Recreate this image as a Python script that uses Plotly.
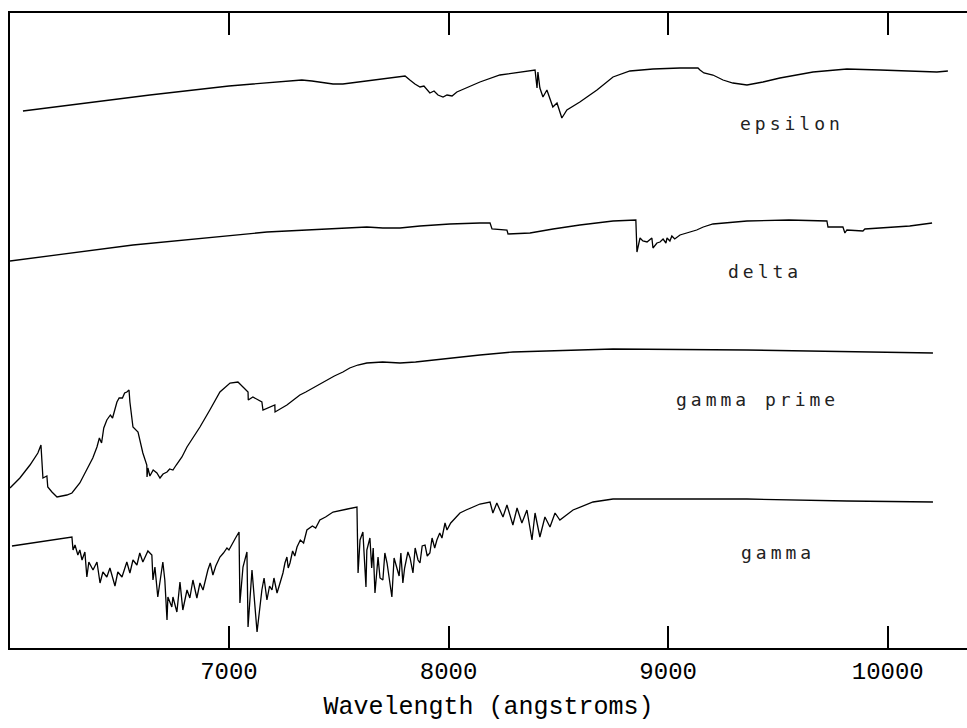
import plotly.graph_objects as go

# Wavelength (angstroms) and relative flux (offset per star) for each spectrum
epsilon_wave = [6062, 6413, 6640, 7000, 7332, 7378, 7474, 7519, 7628, 7802,
                7824, 7847, 7870, 7888, 7915, 7934, 7952, 7975, 7993, 8016, 8038,
                8143, 8234, 8293, 8394, 8403, 8407, 8416, 8430, 8448, 8462, 8475,
                8494, 8516, 8539, 8598, 8676, 8749, 8826, 8931, 9054, 9136, 9145,
                9163, 9204, 9250, 9295, 9359, 9432, 9509, 9660, 9814, 9965, 10101,
                10224, 10274]
epsilon_flux = [5.37, 5.47, 5.53, 5.62, 5.68, 5.67, 5.64, 5.64, 5.67, 5.72,
                5.68, 5.64, 5.61, 5.62, 5.55, 5.57, 5.53, 5.51, 5.53, 5.52, 5.56,
                5.66, 5.73, 5.75, 5.78, 5.60, 5.76, 5.60, 5.51, 5.58, 5.48, 5.41,
                5.45, 5.30, 5.38, 5.46, 5.58, 5.71, 5.77, 5.79, 5.80, 5.80, 5.78,
                5.75, 5.73, 5.68, 5.65, 5.63, 5.66, 5.70, 5.76, 5.79, 5.78, 5.77,
                5.76, 5.77]

delta_wave = [6003, 6563, 7173, 7628, 7701, 7779, 7870, 8006, 8143, 8189,
              8198, 8266, 8271, 8371, 8476, 8598, 8749, 8853, 8858, 8872, 8885,
              8904, 8926, 8931, 8949, 8963, 8977, 8990, 8995, 9008, 9017, 9030,
              9054, 9099, 9130, 9160, 9204, 9359, 9550, 9723, 9728, 9796, 9805,
              9814, 9887, 9896, 9965, 10100, 10202]
delta_flux = [3.87, 4.03, 4.16, 4.21, 4.20, 4.20, 4.22, 4.24, 4.25, 4.25,
              4.19, 4.18, 4.14, 4.15, 4.19, 4.23, 4.27, 4.28, 3.96, 4.10, 4.07,
              4.06, 4.10, 4.00, 4.05, 4.06, 4.09, 4.05, 4.10, 4.07, 4.12, 4.09,
              4.13, 4.16, 4.18, 4.21, 4.24, 4.27, 4.28, 4.27, 4.21, 4.21, 4.15,
              4.18, 4.17, 4.19, 4.20, 4.22, 4.25]

gamma_prime_wave = [6003, 6048, 6094, 6130, 6144, 6148, 6153, 6171, 6175, 6194,
                    6217, 6262, 6285, 6321, 6367, 6380, 6399, 6410, 6420, 6430,
                    6444, 6460, 6470, 6490, 6500, 6515, 6525, 6535, 6545, 6549,
                    6563, 6586, 6608, 6626, 6627, 6631, 6640, 6655, 6672, 6686,
                    6700, 6718, 6730, 6745, 6760, 6786, 6809, 6868, 6913, 6959,
                    7005, 7041, 7064, 7087, 7088, 7109, 7150, 7155, 7209, 7210,
                    7264, 7323, 7350, 7383, 7420, 7446, 7480, 7519, 7550, 7587,
                    7628, 7700, 7779, 7850, 7929, 8000, 8143, 8293, 8749, 9359,
                    9814, 10206]
gamma_prime_flux = [1.60, 1.70, 1.83, 1.95, 2.03, 1.86, 1.70, 1.72, 1.61, 1.56,
                    1.51, 1.53, 1.55, 1.65, 1.85, 1.90, 2.01, 2.10, 2.05, 2.20,
                    2.28, 2.33, 2.30, 2.46, 2.50, 2.50, 2.55, 2.56, 2.58, 2.46,
                    2.21, 2.16, 1.95, 1.83, 1.71, 1.80, 1.72, 1.78, 1.75, 1.70,
                    1.74, 1.76, 1.79, 1.78, 1.83, 1.91, 2.01, 2.21, 2.38, 2.56,
                    2.65, 2.66, 2.61, 2.56, 2.48, 2.51, 2.46, 2.38, 2.43, 2.36,
                    2.43, 2.53, 2.56, 2.60, 2.65, 2.68, 2.72, 2.76, 2.80, 2.83,
                    2.85, 2.86, 2.85, 2.86, 2.88, 2.90, 2.93, 2.96, 2.99, 2.98,
                    2.96, 2.95]

gamma_wave = [6012, 6285, 6290, 6299, 6312, 6321, 6331, 6344, 6353, 6362,
              6381, 6399, 6413, 6426, 6444, 6458, 6481, 6494, 6513, 6535,
              6549, 6563, 6581, 6594, 6608, 6631, 6649, 6654, 6663, 6672,
              6676, 6699, 6708, 6718, 6722, 6740, 6745, 6763, 6777, 6790,
              6809, 6822, 6836, 6854, 6868, 6882, 6895, 6904, 6915, 6927,
              6940, 6959, 6975, 6991, 7000, 7018, 7030, 7046, 7050, 7064,
              7082, 7087, 7105, 7128, 7150, 7160, 7173, 7185, 7196, 7205,
              7219, 7230, 7246, 7255, 7264, 7270, 7278, 7290, 7300, 7310,
              7325, 7340, 7355, 7380, 7395, 7414, 7440, 7474, 7500, 7540,
              7583, 7588, 7597, 7610, 7624, 7628, 7642, 7650, 7657, 7665,
              7679, 7688, 7701, 7710, 7720, 7730, 7742, 7752, 7765, 7775,
              7783, 7792, 7800, 7815, 7825, 7838, 7848, 7861, 7870, 7880,
              7893, 7903, 7915, 7925, 7937, 7947, 7960, 7970, 7984, 7993,
              8010, 8030, 8052, 8080, 8110, 8143, 8189, 8202, 8220, 8248,
              8266, 8293, 8312, 8334, 8357, 8380, 8394, 8416, 8439, 8462,
              8485, 8507, 8567, 8658, 8749, 9359, 9814, 10206]
gamma_flux = [1.02, 1.11, 0.98, 1.03, 0.93, 0.98, 0.88, 0.96, 0.71, 0.86,
              0.78, 0.86, 0.65, 0.76, 0.71, 0.80, 0.62, 0.76, 0.71, 0.86,
              0.75, 0.88, 0.83, 0.95, 0.86, 0.97, 0.93, 0.68, 0.81, 0.58,
              0.51, 0.86, 0.68, 0.28, 0.51, 0.41, 0.51, 0.36, 0.66, 0.38,
              0.58, 0.50, 0.68, 0.50, 0.65, 0.58, 0.70, 0.78, 0.85, 0.73,
              0.82, 0.91, 0.95, 1.00, 0.98, 1.06, 1.10, 1.16, 0.45, 0.81,
              0.96, 0.21, 0.78, 0.16, 0.58, 0.70, 0.48, 0.62, 0.58, 0.70,
              0.55, 0.63, 0.75, 0.85, 0.91, 0.80, 0.85, 0.97, 0.92, 1.01,
              1.08, 1.05, 1.18, 1.22, 1.20, 1.28, 1.31, 1.36, 1.37, 1.39,
              1.41, 0.75, 1.08, 1.16, 0.61, 0.98, 1.10, 0.80, 1.00, 0.55,
              0.91, 0.70, 0.68, 0.95, 0.85, 0.70, 0.51, 0.90, 0.81, 0.72,
              0.95, 0.65, 0.80, 0.96, 0.90, 0.75, 1.00, 0.88, 0.85, 1.02,
              1.03, 0.92, 0.95, 1.10, 1.00, 1.08, 1.15, 1.10, 1.25, 1.18,
              1.25, 1.30, 1.35, 1.38, 1.41, 1.44, 1.46, 1.35, 1.45, 1.31,
              1.43, 1.23, 1.40, 1.25, 1.38, 1.08, 1.35, 1.11, 1.31, 1.21,
              1.35, 1.28, 1.38, 1.46, 1.49, 1.49, 1.47, 1.46]

star_names = ["epsilon", "delta", "gamma prime", "gamma"]
label_wave = [9564, 9441, 9409, 9500]
label_flux = [5.25, 3.77, 2.49, 0.96]

tick_values = [7000, 8000, 9000, 10000]
tick_text = ["7000", "8000", "9000", "10000"]

spectra = [
    (epsilon_wave, epsilon_flux),
    (delta_wave, delta_flux),
    (gamma_prime_wave, gamma_prime_flux),
    (gamma_wave, gamma_flux),
]

fig = go.Figure()
for name, (w, f) in zip(star_names, spectra):
    fig.add_trace(go.Scatter(
        x=w, y=f, mode="lines", name=name,
        line=dict(color="black", width=1.3),
        showlegend=False, hoverinfo="skip",
    ))

for name, lx, ly in zip(star_names, label_wave, label_flux):
    fig.add_annotation(
        x=lx, y=ly, xref="x", yref="y", showarrow=False,
        text=f'<span style="letter-spacing:4px">{name}</span>',
        font=dict(family="DejaVu Sans Mono", size=18, color="#222222"),
        xanchor="center", yanchor="middle",
    )

mono = "Liberation Mono"
fig.update_layout(
    width=967, height=728,
    margin=dict(l=10, r=0, t=13, b=80),
    paper_bgcolor="white", plot_bgcolor="white",
    font=dict(family=mono, color="black"),
    xaxis=dict(
        range=[6003, 10361],
        tickvals=tick_values, ticktext=tick_text,
        ticks="inside", ticklen=22, tickwidth=2, tickcolor="black",
        showline=True, linewidth=2, linecolor="black", mirror="allticks",
        showgrid=False, zeroline=False,
        tickfont=dict(family=mono, size=24, color="black"),
        title=dict(text="Wavelength (angstroms)",
                   font=dict(family=mono, size=25, color="black"),
                   standoff=12),
    ),
    yaxis=dict(
        range=[0, 6.35],
        showline=True, linewidth=2, linecolor="black", mirror=False,
        showticklabels=False, ticks="", showgrid=False, zeroline=False,
    ),
)

fig.write_html("out.html")
